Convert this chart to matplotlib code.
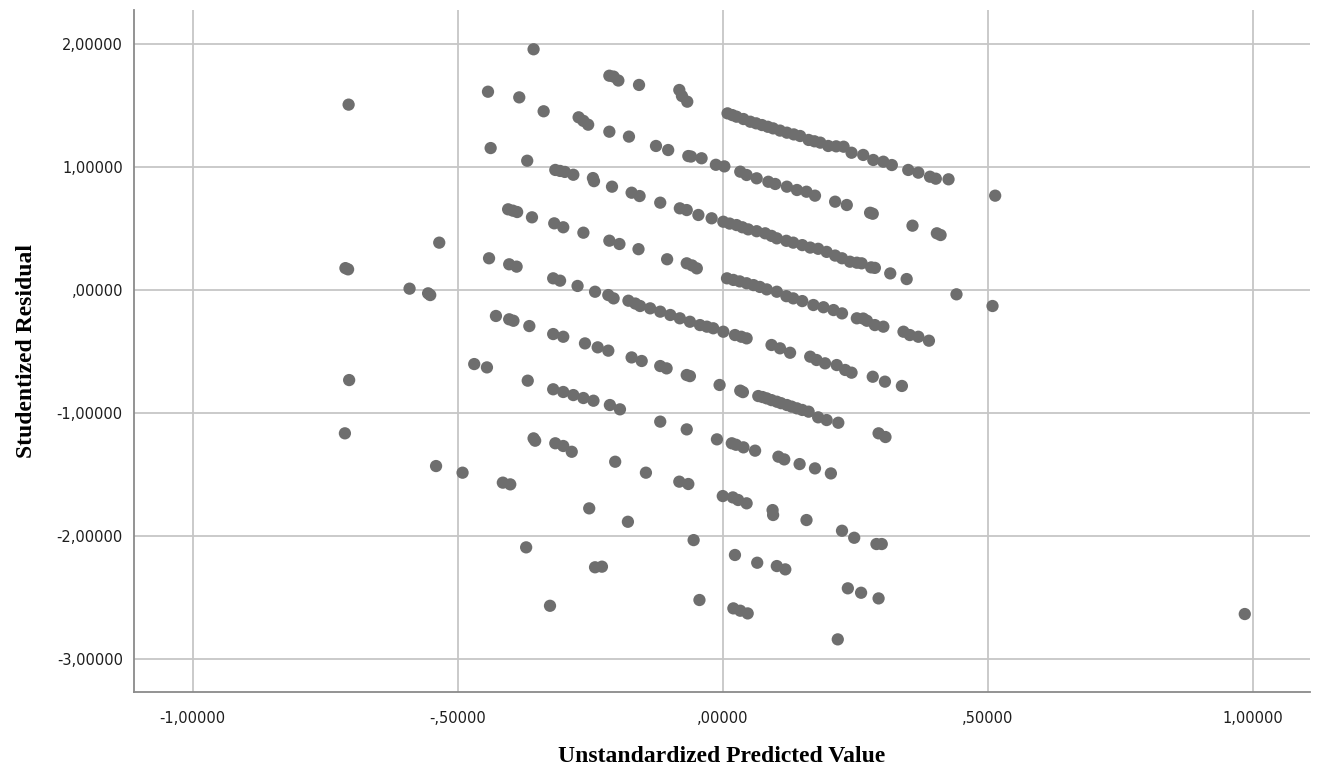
import numpy as np
import matplotlib
matplotlib.use("Agg")
import matplotlib.pyplot as plt
from matplotlib.ticker import FuncFormatter

# (predicted, studentized residual) pairs, grouped by the diagonal bands
band_1 = [(-0.357, 1.957), (-0.214, 1.742), (-0.206, 1.735), (-0.197, 1.703), (-0.158, 1.667),
          (-0.082, 1.626), (-0.077, 1.577), (-0.067, 1.531),
          (0.009, 1.436), (0.018, 1.422), (0.026, 1.409), (0.039, 1.390), (0.052, 1.368),
          (0.063, 1.355), (0.074, 1.341), (0.085, 1.327), (0.095, 1.314), (0.108, 1.296),
          (0.121, 1.279), (0.134, 1.265), (0.146, 1.252), (0.162, 1.220), (0.173, 1.209),
          (0.184, 1.198), (0.199, 1.171), (0.214, 1.168), (0.228, 1.165), (0.243, 1.116),
          (0.265, 1.098), (0.284, 1.057), (0.303, 1.043), (0.319, 1.016), (0.350, 0.976),
          (0.369, 0.954), (0.391, 0.921), (0.402, 0.905), (0.426, 0.900), (0.514, 0.767)]

band_2 = [(-0.443, 1.612), (-0.384, 1.566), (-0.338, 1.453), (-0.272, 1.404), (-0.263, 1.375),
          (-0.254, 1.344), (-0.214, 1.287), (-0.177, 1.247), (-0.126, 1.171), (-0.103, 1.138),
          (-0.065, 1.089), (-0.060, 1.085), (-0.040, 1.071), (-0.013, 1.018), (0.003, 1.005),
          (0.033, 0.962), (0.045, 0.935), (0.064, 0.908), (0.086, 0.880), (0.099, 0.862),
          (0.121, 0.840), (0.140, 0.813), (0.158, 0.799), (0.174, 0.767), (0.212, 0.718),
          (0.234, 0.691), (0.278, 0.628), (0.283, 0.620), (0.358, 0.523), (0.404, 0.461),
          (0.411, 0.447)]

band_3 = [(-0.706, 1.507), (-0.438, 1.154), (-0.369, 1.051), (-0.316, 0.976), (-0.307, 0.968),
          (-0.298, 0.960), (-0.282, 0.937), (-0.245, 0.910), (-0.243, 0.885), (-0.209, 0.840),
          (-0.172, 0.791), (-0.157, 0.764), (-0.118, 0.710), (-0.081, 0.664), (-0.068, 0.650),
          (-0.046, 0.610), (-0.021, 0.583), (0.001, 0.555), (0.013, 0.540), (0.026, 0.528),
          (0.037, 0.510), (0.048, 0.493), (0.064, 0.478), (0.080, 0.461), (0.092, 0.440),
          (0.102, 0.420), (0.120, 0.400), (0.133, 0.385), (0.150, 0.365), (0.165, 0.345),
          (0.180, 0.335), (0.196, 0.310), (0.212, 0.280), (0.225, 0.258), (0.240, 0.230),
          (0.253, 0.222), (0.262, 0.217), (0.280, 0.184), (0.287, 0.180), (0.316, 0.135),
          (0.347, 0.089), (0.441, -0.035), (0.509, -0.130)]

band_4 = [(-0.405, 0.656), (-0.396, 0.645), (-0.388, 0.634), (-0.360, 0.591), (-0.318, 0.542),
          (-0.301, 0.510), (-0.263, 0.466), (-0.214, 0.401), (-0.195, 0.374), (-0.159, 0.332),
          (-0.105, 0.250), (-0.068, 0.217), (-0.058, 0.200), (-0.049, 0.176),
          (0.008, 0.095), (0.020, 0.082), (0.032, 0.070), (0.045, 0.055), (0.058, 0.040),
          (0.070, 0.025), (0.083, 0.005), (0.102, -0.014), (0.120, -0.050), (0.133, -0.068),
          (0.150, -0.090), (0.171, -0.122), (0.190, -0.140), (0.209, -0.163), (0.225, -0.190),
          (0.253, -0.230), (0.265, -0.232), (0.272, -0.250), (0.287, -0.285), (0.303, -0.298),
          (0.341, -0.339), (0.353, -0.366), (0.369, -0.380), (0.389, -0.412)]

band_5 = [(-0.535, 0.385), (-0.441, 0.258), (-0.403, 0.209), (-0.389, 0.190), (-0.320, 0.095),
          (-0.307, 0.076), (-0.274, 0.033), (-0.241, -0.014), (-0.216, -0.041), (-0.206, -0.068),
          (-0.178, -0.087), (-0.165, -0.110), (-0.156, -0.130), (-0.137, -0.149), (-0.118, -0.176),
          (-0.099, -0.203), (-0.081, -0.230), (-0.062, -0.258), (-0.043, -0.285), (-0.030, -0.298),
          (-0.018, -0.311), (0.001, -0.339), (0.023, -0.366), (0.035, -0.380), (0.045, -0.393),
          (0.092, -0.447), (0.108, -0.474), (0.127, -0.510), (0.165, -0.542), (0.177, -0.569),
          (0.193, -0.596), (0.215, -0.610), (0.231, -0.650), (0.243, -0.672), (0.283, -0.705),
          (0.306, -0.745), (0.338, -0.780)]

band_6 = [(-0.712, 0.178), (-0.707, 0.168), (-0.591, 0.011), (-0.556, -0.027), (-0.552, -0.041),
          (-0.428, -0.211), (-0.403, -0.238), (-0.395, -0.250), (-0.365, -0.293), (-0.320, -0.358),
          (-0.301, -0.380), (-0.260, -0.434), (-0.236, -0.466), (-0.216, -0.493), (-0.172, -0.548),
          (-0.153, -0.577), (-0.118, -0.618), (-0.106, -0.637), (-0.068, -0.691), (-0.062, -0.700),
          (-0.006, -0.772), (0.033, -0.818), (0.038, -0.830), (0.067, -0.862), (0.075, -0.870),
          (0.083, -0.881), (0.092, -0.895), (0.102, -0.908), (0.110, -0.920), (0.121, -0.935),
          (0.130, -0.948), (0.140, -0.962), (0.150, -0.975), (0.162, -0.989), (0.180, -1.035),
          (0.196, -1.057), (0.218, -1.079), (0.294, -1.165), (0.307, -1.195)]

band_7 = [(-0.469, -0.602), (-0.445, -0.629), (-0.368, -0.737), (-0.320, -0.807), (-0.301, -0.829),
          (-0.282, -0.854), (-0.263, -0.878), (-0.244, -0.900), (-0.213, -0.935), (-0.194, -0.970),
          (-0.118, -1.070), (-0.068, -1.133), (-0.011, -1.214), (0.017, -1.246), (0.025, -1.258),
          (0.039, -1.279), (0.061, -1.306), (0.105, -1.355), (0.116, -1.377), (0.145, -1.415),
          (0.174, -1.450), (0.204, -1.491)]

band_8 = [(-0.705, -0.732), (-0.357, -1.206), (-0.354, -1.225), (-0.316, -1.246), (-0.301, -1.268),
          (-0.285, -1.315), (-0.203, -1.396), (-0.145, -1.485), (-0.082, -1.558), (-0.065, -1.577),
          (0.000, -1.675), (0.019, -1.686), (0.029, -1.707), (0.045, -1.734), (0.094, -1.789),
          (0.095, -1.829), (0.158, -1.870), (0.225, -1.957), (0.248, -2.014), (0.290, -2.065),
          (0.300, -2.065)]

band_9 = [(-0.713, -1.165), (-0.541, -1.431), (-0.491, -1.485), (-0.415, -1.566), (-0.401, -1.580),
          (-0.252, -1.775), (-0.179, -1.884), (-0.055, -2.033), (0.023, -2.154), (0.065, -2.217),
          (0.102, -2.244), (0.118, -2.271), (0.236, -2.425), (0.261, -2.461), (0.294, -2.507)]

band_10 = [(-0.371, -2.092), (-0.241, -2.254), (-0.228, -2.249), (-0.044, -2.520), (0.020, -2.588),
           (0.033, -2.607), (0.047, -2.629), (-0.326, -2.567), (0.217, -2.840), (0.985, -2.634)]

x_ticks = [-1.0, -0.5, 0.0, 0.5, 1.0]
y_ticks = [-3.0, -2.0, -1.0, 0.0, 1.0, 2.0]

points = np.array(band_1 + band_2 + band_3 + band_4 + band_5 +
                  band_6 + band_7 + band_8 + band_9 + band_10)
predicted = points[:, 0]
residual = points[:, 1]


def spss_fmt(v, pos=None):
    # SPSS style: comma decimal, no leading zero
    s = f"{abs(v):.5f}".replace(".", ",")
    if s.startswith("0,"):
        s = s[1:]
    return ("-" if v < -1e-9 else "") + s


fig = plt.figure(figsize=(13.2, 7.72), dpi=100)
ax = fig.add_axes([0.1015, 0.1036, 0.8909, 0.8834])

ax.scatter(predicted, residual, s=78, color="#6e6e6e", edgecolors="none", zorder=3)

ax.set_xlim(-1.111, 1.108)
ax.set_ylim(-3.268, 2.276)
ax.set_xticks(x_ticks)
ax.set_yticks(y_ticks)
ax.xaxis.set_major_formatter(FuncFormatter(spss_fmt))
ax.yaxis.set_major_formatter(FuncFormatter(spss_fmt))

ax.grid(True, color="#c6c6c6", linewidth=1.3, zorder=0)
ax.set_axisbelow(True)
for side in ["top", "right"]:
    ax.spines[side].set_visible(False)
for side in ["left", "bottom"]:
    ax.spines[side].set_color("#8a8a8a")
    ax.spines[side].set_linewidth(1.3)

ax.tick_params(length=0, labelsize=10.5, labelcolor="#1e1e1e")
ax.tick_params(axis="x", pad=14)
ax.tick_params(axis="y", pad=8)
for lbl in ax.get_xticklabels() + ax.get_yticklabels():
    lbl.set_family("DejaVu Sans")

ax.set_xlabel("Unstandardized Predicted Value", family="Liberation Serif",
              fontweight="bold", fontsize=17, labelpad=14)
ax.set_ylabel("Studentized Residual", family="Liberation Serif",
              fontweight="bold", fontsize=17, labelpad=14)

fig.savefig("out.png", dpi=100)
